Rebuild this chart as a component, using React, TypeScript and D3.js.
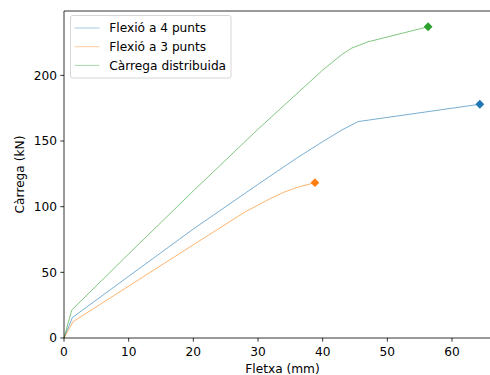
import React from "react";
import * as d3 from "d3";

const seriesNames = ["Flexió a 4 punts", "Flexió a 3 punts", "Càrrega distribuida"];
const seriesColors = ["#1f77b4", "#ff7f0e", "#2ca02c"];

const flex4X = [0, 1.3, 10, 20, 30, 36, 40, 43, 45.5, 64.3];
const flex4Y = [0, 15.6, 47, 83, 117, 137, 149.5, 158.5, 164.8, 178];

const flex3X = [0, 1.4, 10, 20, 28, 32, 34, 36, 38.8];
const flex3Y = [0, 12.4, 39.5, 71, 96, 106.4, 111, 114.6, 118.3];

const distX = [0, 1.2, 10, 20, 30, 40, 43, 44.5, 47, 56.3];
const distY = [0, 21.3, 64, 112, 159, 204, 216, 220.8, 225.5, 237];

const xTicks = [0, 10, 20, 30, 40, 50, 60];
const yTicks = [0, 50, 100, 150, 200];

const W = 490;
const H = 375;
const left = 64;
const top = 11;
const bottom = 338;
const xMax = 70;
const yMax = 249;
const pxPerX = 6.467;

export default function App() {
  const x = d3.scaleLinear().domain([0, xMax]).range([left, left + xMax * pxPerX]);
  const y = d3.scaleLinear().domain([0, yMax]).range([bottom, top]);
  const series = [
    { xs: flex4X, ys: flex4Y },
    { xs: flex3X, ys: flex3Y },
    { xs: distX, ys: distY },
  ];
  const line = d3
    .line<[number, number]>()
    .x((d) => x(d[0]))
    .y((d) => y(d[1]));
  const font = "DejaVu Sans, sans-serif";
  const right = x(xMax);
  const fs = 12.2;
  return (
    <svg
      width={W}
      height={H}
      style={{ position: "absolute", left: 0, top: 0, background: "#fff" }}
      fontFamily={font}
    >
      <rect x={0} y={0} width={W} height={H} fill="#fff" />
      {series.map((s, i) => {
        const pts: [number, number][] = s.xs.map((v, j) => [v, s.ys[j]]);
        const last = pts[pts.length - 1];
        const cx = x(last[0]);
        const cy = y(last[1]);
        const r = 4.4;
        return (
          <g key={i}>
            <path d={line(pts) || ""} fill="none" stroke={seriesColors[i]} strokeWidth={0.8} strokeOpacity={0.75} />
            <path
              d={`M${cx},${cy - r}L${cx + r},${cy}L${cx},${cy + r}L${cx - r},${cy}Z`}
              fill={seriesColors[i]}
            />
          </g>
        );
      })}
      <line x1={left} y1={top} x2={left} y2={bottom} stroke="#000" strokeWidth={0.8} />
      <line x1={left} y1={bottom} x2={right} y2={bottom} stroke="#000" strokeWidth={0.8} />
      <line x1={left} y1={top} x2={right} y2={top} stroke="#000" strokeWidth={0.8} />
      {xTicks.map((t) => (
        <g key={"x" + t}>
          <line x1={x(t)} x2={x(t)} y1={bottom} y2={bottom + 3.7} stroke="#000" strokeWidth={0.8} />
          <text x={x(t)} y={bottom + 18} textAnchor="middle" fontSize={fs} fill="#000">
            {t}
          </text>
        </g>
      ))}
      {yTicks.map((t) => (
        <g key={"y" + t}>
          <line x1={left - 3.7} x2={left} y1={y(t)} y2={y(t)} stroke="#000" strokeWidth={0.8} />
          <text x={left - 7} y={y(t)} dy="0.36em" textAnchor="end" fontSize={fs} fill="#000">
            {t}
          </text>
        </g>
      ))}
      <text x={282.5} y={373} textAnchor="middle" fontSize={fs} fill="#000">
        Fletxa (mm)
      </text>
      <text
        transform={`translate(24,${(top + bottom) / 2}) rotate(-90)`}
        textAnchor="middle"
        fontSize={fs}
        fill="#000"
      >
        Càrrega (kN)
      </text>
      <rect x={70.5} y={15.5} width={160.5} height={62.5} rx={2} fill="#fff" fillOpacity={0.8} stroke="#ccc" strokeWidth={0.8} />
      {seriesNames.map((n, i) => {
        const ly = 28 + i * 18.7;
        return (
          <g key={n}>
            <line x1={74.7} x2={99.3} y1={ly} y2={ly} stroke={seriesColors[i]} strokeWidth={0.8} strokeOpacity={0.5} />
            <text x={109.3} y={ly} dy="0.36em" fontSize={fs} fill="#000">
              {n}
            </text>
          </g>
        );
      })}
    </svg>
  );
}
